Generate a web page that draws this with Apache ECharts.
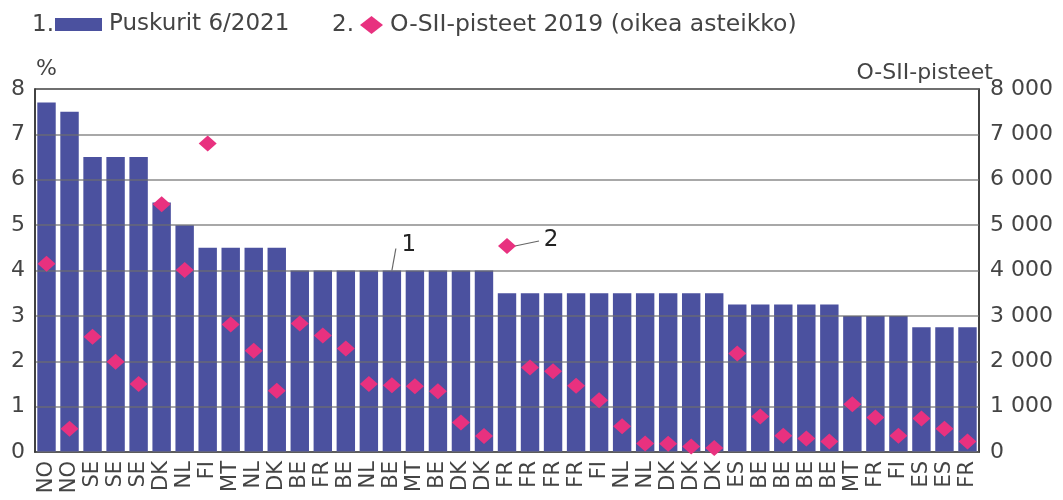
<!DOCTYPE html>
<html>
<head>
<meta charset="utf-8">
<script src="https://cdn.jsdelivr.net/npm/echarts@6/dist/echarts.min.js"></script>
<style>
html,body{margin:0;padding:0;background:#fff;}
#c{width:1063px;height:500px;}
</style>
</head>
<body>
<div id="c"></div>
<script>
const categories = ['NO','NO','SE','SE','SE','DK','NL','FI','MT','NL','DK','BE','FR','BE','NL','BE','MT','BE','DK','DK','FR','FR','FR','FR','FI','NL','NL','DK','DK','DK','ES','BE','BE','BE','BE','MT','FR','FI','ES','ES','FR'];
const buffers = [7.7,7.5,6.5,6.5,6.5,5.5,5,4.5,4.5,4.5,4.5,4,4,4,4,4,4,4,4,4,3.5,3.5,3.5,3.5,3.5,3.5,3.5,3.5,3.5,3.5,3.25,3.25,3.25,3.25,3.25,3,3,3,2.75,2.75,2.75];
const osiiScores = [4150,510,2540,1990,1500,5460,4010,6800,2810,2230,1350,2830,2570,2280,1500,1470,1450,1340,650,350,4540,1860,1780,1460,1140,570,190,180,120,90,2170,780,360,300,230,1050,760,360,740,510,230];
const leftTicks = [0,1,2,3,4,5,6,7,8];
const rightTicks = [0,1000,2000,3000,4000,5000,6000,7000,8000];
const seriesNames = ['Puskurit 6/2021','O-SII-pisteet 2019 (oikea asteikko)'];

const FONT = 'DejaVu Sans';
const TXT = '#444';
const BAR = '#4b519f';
const PINK = '#e8317f';

const chart = echarts.init(document.getElementById('c'), null, {renderer:'canvas'});
const option = {
  animation:false,
  textStyle:{fontFamily:FONT,color:TXT},
  legend:[
    {data:[seriesNames[0]],left:55,top:13,padding:0,itemWidth:47,itemHeight:13,icon:'rect',
     textStyle:{fontFamily:FONT,fontSize:23,color:TXT,padding:[0,0,0,2]}},
    {data:[seriesNames[1]],left:360,top:13,padding:0,itemWidth:23,itemHeight:18,icon:'diamond',
     textStyle:{fontFamily:FONT,fontSize:23.5,color:TXT,padding:[0,0,0,2]}}
  ],
  grid:{left:35,right:84,top:89,bottom:48,show:true,borderColor:'#444',borderWidth:1.5,backgroundColor:'transparent'},
  xAxis:{type:'category',data:categories,boundaryGap:true,
    axisLine:{show:true,lineStyle:{color:'#333',width:1.5}},
    axisTick:{show:false},
    axisLabel:{interval:0,rotate:90,fontSize:21,color:TXT,fontFamily:FONT,margin:9}},
  yAxis:[
    {type:'value',min:0,max:8,interval:1,position:'left',z:3,
     axisLine:{show:true,lineStyle:{color:'#333',width:1.5}},axisTick:{show:false},
     axisLabel:{fontSize:22,color:TXT,fontFamily:FONT,margin:10,
       formatter:v=>leftTicks.includes(v)?String(v):''},
     splitLine:{show:true,lineStyle:{color:'rgba(110,110,110,0.8)',width:1.5}}},
    {type:'value',min:0,max:8000,interval:1000,position:'right',
     axisLine:{show:true,lineStyle:{color:'#333',width:1.5}},axisTick:{show:false},
     axisLabel:{fontSize:22,color:TXT,fontFamily:FONT,margin:11,
       formatter:v=>rightTicks.includes(v)?(v>=1000?(Math.floor(v/1000)+' '+String(v%1000).padStart(3,'0')):String(v)):''},
     splitLine:{show:false}}
  ],
  series:[
    {name:seriesNames[0],type:'bar',data:buffers,yAxisIndex:0,barCategoryGap:'20%',z:2,
     itemStyle:{color:BAR}},
    {name:seriesNames[1],type:'scatter',data:osiiScores,yAxisIndex:1,symbol:'diamond',symbolSize:[18,16],z:5,
     itemStyle:{color:PINK,opacity:1}}
  ]
};
chart.setOption(option);

const p1 = chart.convertToPixel({xAxisIndex:0,yAxisIndex:0},[15,buffers[15]]);
const p2 = chart.convertToPixel({xAxisIndex:0,yAxisIndex:1},[20,osiiScores[20]]);
const gridTop = chart.convertToPixel({yAxisIndex:0},8);
chart.setOption({graphic:[
  {type:'text',x:32,y:25,style:{text:'1.',font:'23px "DejaVu Sans"',fill:TXT,textVerticalAlign:'middle'}},
  {type:'text',x:332,y:25,style:{text:'2.',font:'23px "DejaVu Sans"',fill:TXT,textVerticalAlign:'middle'}},
  {type:'text',x:36,y:gridTop-20,style:{text:'%',font:'22px "DejaVu Sans"',fill:TXT,textVerticalAlign:'middle'}},
  {type:'text',x:993,y:gridTop-16,style:{text:'O-SII-pisteet',font:'22px "DejaVu Sans"',fill:TXT,textAlign:'right',textVerticalAlign:'middle'}},
  {type:'line',shape:{x1:p1[0],y1:p1[1],x2:p1[0]+4,y2:p1[1]-22},style:{stroke:'#666',lineWidth:1.2}},
  {type:'text',x:p1[0]+17,y:p1[1]-25,style:{text:'1',font:'23px "DejaVu Sans"',fill:'#222',textAlign:'center',textVerticalAlign:'middle'}},
  {type:'line',shape:{x1:p2[0]+8,y1:p2[1],x2:p2[0]+32,y2:p2[1]-5},style:{stroke:'#666',lineWidth:1.2}},
  {type:'text',x:p2[0]+44,y:p2[1]-6,style:{text:'2',font:'23px "DejaVu Sans"',fill:'#222',textAlign:'center',textVerticalAlign:'middle'}}
]});
</script>
</body>
</html>
